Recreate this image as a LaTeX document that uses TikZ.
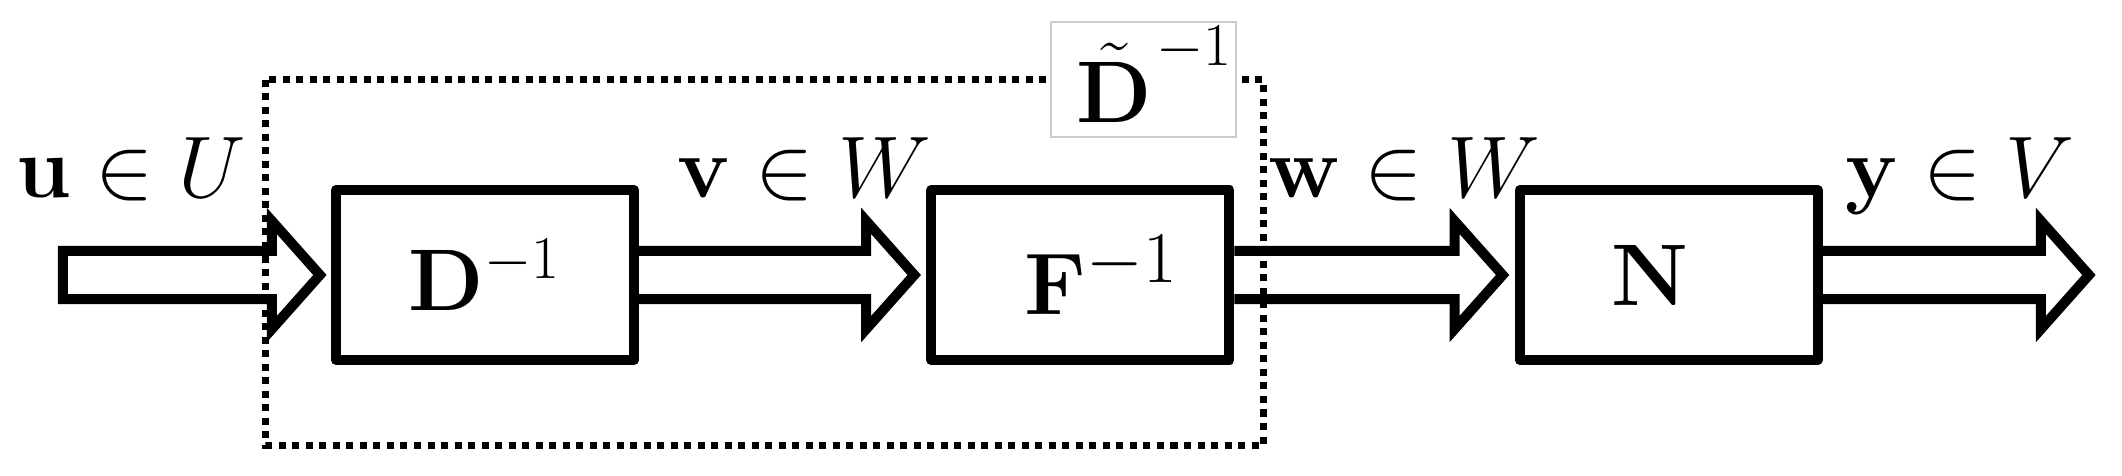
\documentclass[tikz,border=0pt]{standalone}
\usepackage{amsmath}
\usetikzlibrary{positioning, calc}

\newcommand{\fatarrow}[3][]{%
  \draw[hollow] let \p1=(#2), \p2=(#3) in
    (\x1,\y1+0.24cm) -- (\x2-0.48cm,\y1+0.24cm) -- (\x2-0.48cm,\y1+0.54cm)
    -- (\x2,\y1) -- (\x2-0.48cm,\y1-0.54cm) -- (\x2-0.48cm,\y1-0.24cm)
    -- (\x1,\y1-0.24cm) #1;}

\begin{document}
\begin{tikzpicture}[x=0.01cm, y=0.01cm]
	% Define styles
	\tikzset{
		blk/.style={rectangle, draw, line width=0.1cm, line join=round, minimum width=2.98cm, minimum height=1.7cm, inner sep=0pt},
		hollow/.style={draw, line width=0.1cm, line join=miter},
		lbl/.style={inner sep=0pt, anchor=base west, font=\fontsize{24}{29}\selectfont},
		dotline/.style={draw, line width=0.07cm, dash pattern=on 0.07cm off 0.065cm},
		tildebox/.style={draw=black!20, line width=0.02cm, fill=white, minimum width=1.85cm, minimum height=1.15cm, inner sep=0pt, font=\fontsize{23.6}{28}\selectfont}
	}
	\useasboundingbox (0,0) rectangle (2122,475);
	
	% Nodes
	\node[blk, font=\fontsize{23.6}{28}\selectfont] (D) at (485,200) {$\mathbf{D}^{-1}$};
	\node[blk, right=2.87cm of D, font=\fontsize{28}{33}\selectfont] (F) {\hspace*{0.42cm}$\mathbf{F}^{-1}$};
	\node[blk, right=2.8cm of F, font=\fontsize{27}{32}\selectfont] (N) {$\mathbf{N}$\hspace*{0.38cm}};
	
	\coordinate (dnw) at ([xshift=-0.65cm, yshift=1.05cm]D.north west);
	\coordinate (dse) at ([xshift=0.29cm, yshift=-0.8cm]F.south east);
	\draw[dotline] (dnw) rectangle (dse);
	\node[tildebox, xshift=-1.195cm] (Dt) at (dnw -| dse) {\hspace*{0.2cm}\raisebox{0.1cm}{$\tilde{\mathbf{D}}$\hspace{0.04cm}\raisebox{0.57cm}{$\scriptstyle -1$}}};
	
	\node[lbl] (ulbl) at ([xshift=-3.15cm, yshift=-0.13cm]D.north west) {$\mathbf{u}\in U$};
	\node[lbl] (vlbl) at ([xshift=0.38cm, yshift=-0.13cm]D.north east) {$\mathbf{v}\in W$};
	\node[lbl] (wlbl) at ([xshift=0.33cm, yshift=-0.13cm]F.north east) {$\mathbf{w}\in W$};
	\node[lbl] (ylbl) at ([xshift=0.22cm, yshift=-0.13cm]N.north east) {$\mathbf{y}\in V$};
	
	\coordinate (uin) at ([xshift=-2.68cm]D.west);
	\coordinate (yout) at ([xshift=2.66cm]N.east);
	
	% Arrows
	\fatarrow[-- cycle]{uin}{[xshift=-0.11cm]D.west}
	\fatarrow{D.east}{[xshift=-0.12cm]F.west}
	\fatarrow{F.east}{[xshift=-0.12cm]N.west}
	\fatarrow{N.east}{yout}
	
\end{tikzpicture}
\end{document}
